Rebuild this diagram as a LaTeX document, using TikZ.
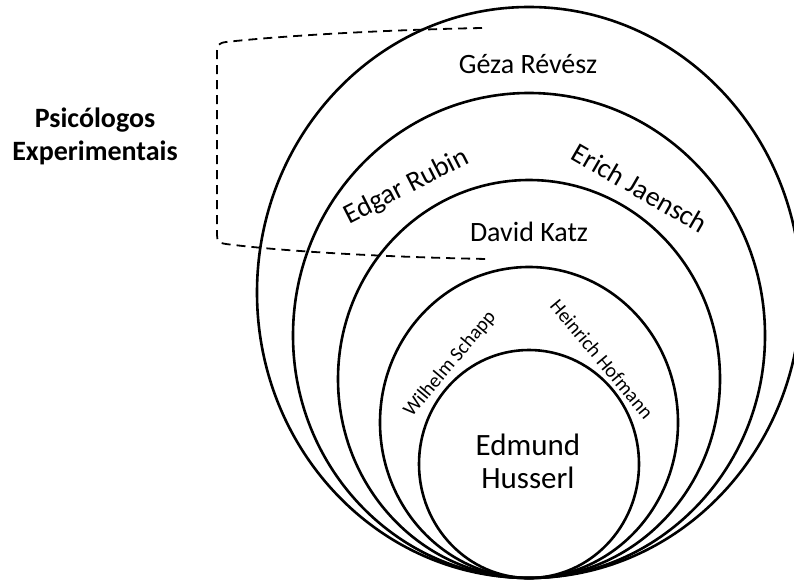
\documentclass[tikz,border=0pt]{standalone}
\usepackage{fontspec}
\setmainfont{Carlito}
\begin{document}
\begin{tikzpicture}[x=1pt,y=-1pt,
  ring/.style={draw=black,line width=2.6pt},
  bracket/.style={draw=black,line width=1.8pt,dash pattern=on 9pt off 6pt},
  lbl/.style={inner sep=0pt,font=\fontsize{28}{34}\selectfont},
  small/.style={inner sep=0pt,font=\fontsize{20}{24}\selectfont}]
\useasboundingbox (0,0) rectangle (794,583);
% nested ellipses tangent at bottom
\draw[ring] (529,292.5) ellipse [x radius=272, y radius=285.5];
\draw[ring] (529,335.5) ellipse [x radius=236, y radius=242.5];
\draw[ring] (529,379) ellipse [x radius=191, y radius=199];
\draw[ring] (529,422.5) ellipse [x radius=149, y radius=155.5];
\draw[ring] (529,464) ellipse [x radius=110, y radius=114];
% dashed bracket
\coordinate (bt) at (482,28);
\coordinate (bb) at (487,259);
\draw[bracket] (bt) .. controls (380,30) and (280,36) .. (226,42)
  .. controls (219,43) and (217,45) .. (217,51) -- (217,235)
  .. controls (217,241) and (219,243) .. (226,244)
  .. controls (280,251) and (380,257) .. (bb);
% labels
\node[lbl] (geza) at (528,64) {Géza Révész};
\node[lbl,rotate=27] (edgar) at (407,187) {Edgar Rubin};
\node[lbl,rotate=-30] (erich) at (640,188) {Erich Jaensch};
\node[lbl] (katz) at (529,232) {David Katz};
\node[small,rotate=50] (schapp) at (450,364) {Wilhelm Schapp};
\node[small,rotate=-50] (hofmann) at (602,359) {Heinrich Hofmann};
\node[inner sep=0pt,align=center,font=\fontsize{31}{33}\selectfont] (husserl) at (528,461) {Edmund\\Husserl};
\node[inner sep=0pt,align=center,font=\fontsize{28}{33}\selectfont\bfseries] (psi) at (95,136) {Psicólogos\\Experimentais};
\end{tikzpicture}
\end{document}
